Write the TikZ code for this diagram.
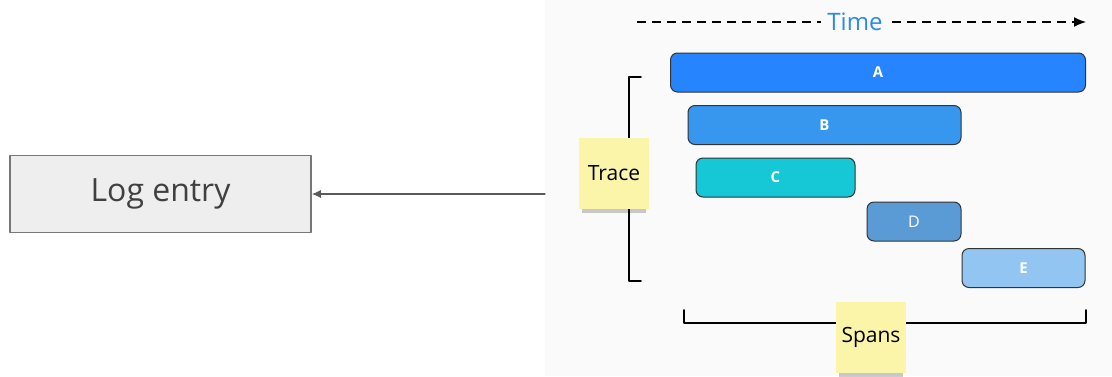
\documentclass[tikz,border=0pt]{standalone}
\usepackage{fontspec}
\setmainfont{Open Sans}
\usetikzlibrary{arrows.meta,shadows}
\definecolor{panelbg}{HTML}{FAFAFA}
\definecolor{logfill}{HTML}{EEEEEE}
\definecolor{logline}{HTML}{777777}
\definecolor{timeblue}{HTML}{2B8AE8}
\definecolor{spanA}{HTML}{2684FF}
\definecolor{spanB}{HTML}{3797EF}
\definecolor{spanC}{HTML}{16C7D6}
\definecolor{spanD}{HTML}{5B9BD5}
\definecolor{spanE}{HTML}{92C5F2}
\definecolor{sticky}{HTML}{FBF5AA}
\begin{document}
\begin{tikzpicture}[x=1pt,y=-1pt,line cap=round,line join=round,
  span/.style={draw=black!80,line width=1pt,rounded corners=7pt,inner sep=0pt,
    text=white,font=\fontsize{15}{15}\selectfont\bfseries,minimum height=39},
  note/.style={fill=sticky,inner sep=0pt,minimum width=70,minimum height=71,
    font=\fontsize{21}{21}\selectfont,
    drop shadow={shadow xshift=0pt,shadow yshift=-7pt,shadow scale=0.92,opacity=0.2,fill=black}}]
  \useasboundingbox (0,0) rectangle (1112,376);

  % Right panel
  \fill[panelbg] (545,0) rectangle (1112,376);

  % Log entry box
  \node[draw=logline,fill=logfill,line width=1.5pt,minimum width=301,minimum height=77,
    inner sep=0pt,text=black!75,font=\fontsize{32}{32}\selectfont] (log) at (160.5,194) {Log entry};
  \coordinate (src) at (545,194);
  \draw[black!65,line width=1.3pt,-{Latex[length=9pt,width=8pt]}] (src) -- (log.east);

  % Time axis
  \coordinate (t0) at (637,22);
  \coordinate (t1) at (1086,22);
  \draw[line width=1.5pt,dash pattern=on 9pt off 6pt,line cap=butt,-{Latex[length=12pt,width=10pt]}] (t0) -- (t1);
  \node[fill=panelbg,text=timeblue,inner xsep=6pt,inner ysep=3pt,font=\fontsize{24}{24}\selectfont] (time) at (855,22) {Time};

  % Spans
  \node[span,fill=spanA,minimum width=415] (A) at (878,72.5) {A};
  \node[span,fill=spanB,minimum width=273] (B) at (824.5,125) {B};
  \node[span,fill=spanC,minimum width=159] (C) at (775.5,177.5) {C};
  \node[span,fill=spanD,minimum width=94,font=\fontsize{16}{16}\selectfont] (D) at (914,221.5) {D};
  \node[span,fill=spanE,minimum width=123] (E) at (1023.5,268) {E};

  % Trace bracket
  \draw[line width=1.6pt] (641,77) -- (629,77) -- (629,281) -- (641,281);
  \node[note] (trace) at (614,173.5) {Trace};

  % Spans bracket
  \draw[line width=1.6pt] (684,310) -- (684,323) -- (1086,323) -- (1086,310);
  \node[note] (spans) at (871,337.5) {Spans};
\end{tikzpicture}
\end{document}
